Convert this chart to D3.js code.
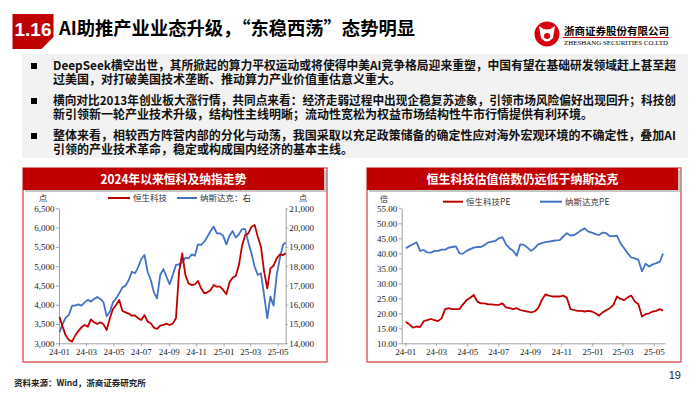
<!DOCTYPE html>
<html><head><meta charset="utf-8">
<script src="https://cdn.jsdelivr.net/npm/d3@7"></script>
<style>body{margin:0;background:#fff}svg{display:block}</style>
</head><body>
<svg id="c" width="700" height="394"></svg>
<script>
// ---------------- DATA ----------------
const dates = ["2024-01-02","2024-01-09","2024-01-16","2024-01-23","2024-01-30","2024-02-06","2024-02-13","2024-02-20","2024-02-27","2024-03-05","2024-03-12","2024-03-19","2024-03-26","2024-04-02","2024-04-09","2024-04-16","2024-04-23","2024-04-30","2024-05-07","2024-05-14","2024-05-21","2024-05-28","2024-06-04","2024-06-11","2024-06-18","2024-06-25","2024-07-02","2024-07-09","2024-07-16","2024-07-23","2024-07-30","2024-08-06","2024-08-13","2024-08-20","2024-08-27","2024-09-03","2024-09-10","2024-09-17","2024-09-24","2024-10-01","2024-10-08","2024-10-15","2024-10-22","2024-10-29","2024-11-05","2024-11-12","2024-11-19","2024-11-26","2024-12-03","2024-12-10","2024-12-17","2024-12-24","2024-12-31","2025-01-07","2025-01-14","2025-01-21","2025-01-28","2025-02-04","2025-02-11","2025-02-18","2025-02-25","2025-03-04","2025-03-11","2025-03-18","2025-03-25","2025-04-01","2025-04-08","2025-04-15","2025-04-22","2025-04-29","2025-05-06","2025-05-13","2025-05-19"];
const hstech = [3690,3432,3200,3086,3043,3200,3320,3415,3475,3432,
  3620,3544,3500,3544,3492,3345,3648,3890,3993,4123,
  3838,3803,3770,3717,3725,3648,3605,3734,3561,3518,
  3406,3371,3458,3475,3510,3475,3510,3648,4857,5332,
  4770,4554,4511,4528,4615,4425,4295,4321,4382,4511,
  4468,4468,4382,4270,4580,4701,4744,5029,5530,5807,
  5850,6023,6066,5764,5504,4860,4425,4943,5012,5202,
  5306,5288,5331];
const nasdaq = [14570,15000,15330,15470,15950,15950,16020,15950,16120,16250,
  16160,16300,16400,16300,16120,15400,15640,16120,16330,16590,
  16900,16990,17280,17710,17630,17950,18370,18580,17710,17280,
  16640,16330,17540,17850,17450,17060,17540,18060,18090,18200,
  18440,18400,18610,18540,19130,19100,19270,19530,19820,20050,
  19700,19700,19580,19130,19580,19820,19480,19650,19920,19920,
  19230,18660,17970,17540,17630,16500,15300,16420,15950,17540,
  18400,19100,19230];
const hstechPE = [17.2,16.3,15.2,15.6,15.4,17.4,17.7,18.1,17.7,17.4,
  18.3,21.4,21.7,21.4,21.4,21.4,23.0,24.4,25.2,26.1,
  23.9,23.3,23.3,23.0,23.0,22.8,22.8,23.3,22.0,21.7,
  21.4,21.7,21.1,20.8,20.6,20.3,20.6,21.7,24.4,26.3,
  25.9,25.6,25.6,25.6,25.9,25.2,21.4,21.1,20.8,20.8,
  20.6,20.8,20.6,20.0,19.2,20.3,21.0,21.7,22.8,25.6,
  24.8,24.4,25.3,25.9,23.9,23.0,18.9,19.7,20.0,20.6,
  20.8,21.4,20.9];
const nasdaqPE = [41.7,42.4,43.0,43.7,40.8,41.1,40.3,40.2,40.8,40.8,
  41.2,41.2,41.9,42.1,42.3,40.0,39.9,40.8,41.4,41.9,
  42.1,42.1,42.8,43.6,43.9,44.1,45.0,45.4,43.0,41.7,
  40.8,39.2,43.0,42.8,41.9,40.8,41.7,43.0,43.4,43.7,
  43.9,44.1,44.3,44.4,45.6,46.7,45.9,46.1,46.8,47.7,
  48.3,47.2,46.9,46.4,46.1,46.9,46.7,45.7,45.7,45.9,
  43.3,41.7,40.0,38.6,38.3,37.8,34.0,36.5,35.6,36.3,
  36.7,37.2,39.9];
const xTickLabels = ["24-01","24-03","24-05","24-07","24-09","24-11","25-01","25-03","25-05"];
const xTickDates = ["2024-01-01","2024-03-01","2024-05-01","2024-07-01","2024-09-01","2024-11-01","2025-01-01","2025-03-01","2025-05-01"];
const leftTicks = [3000,3500,4000,4500,5000,5500,6000,6500];
const rightTicks = [14000,15000,16000,17000,18000,19000,20000,21000];
const peTicks = [10,15,20,25,30,35,40,45,50,55];
const bullets = [
  ["DeepSeek横空出世，其所掀起的算力平权运动或将使得中美AI竞争格局迎来重塑，中国有望在基础研发领域赶上甚至超","过美国，对打破美国技术垄断、推动算力产业价值重估意义重大。"],
  ["横向对比2013年创业板大涨行情，共同点来看：经济走弱过程中出现企稳复苏迹象，引领市场风险偏好出现回升；科技创","新引领新一轮产业技术升级，结构性主线明晰；流动性宽松为权益市场结构性牛市行情提供有利环境。"],
  ["整体来看，相较西方阵营内部的分化与动荡，我国采取以充足政策储备的确定性应对海外宏观环境的不确定性，叠加AI","引领的产业技术革命，稳定或构成国内经济的基本主线。"]
];

// ---------------- DRAW ----------------
const parse = d3.timeParse("%Y-%m-%d");
const D = dates.map(parse);
const svg = d3.select("#c");
const CJK = "'Noto Sans CJK SC', sans-serif";
const SERIF = "'Liberation Serif', serif";
const RED = "#c00000", BLUE = "#4472c4";

// header
svg.append("path").attr("d","M12.5,14H53.5V37L41.5,49H12.5Z").attr("fill",RED);
svg.append("text").attr("x",33).attr("y",36).attr("text-anchor","middle").attr("fill","#fff")
  .attr("font-family","'Liberation Sans', Arial, sans-serif").attr("font-weight","bold").attr("font-size",19).text("1.16");
svg.append("text").attr("x",59).attr("y",35).attr("font-family",CJK).attr("font-weight","bold")
  .attr("font-size",18).attr("textLength",356).attr("lengthAdjust","spacingAndGlyphs")
  .text("AI助推产业业态升级，“东稳西荡”态势明显");

// logo
const lg = svg.append("g");
lg.append("circle").attr("cx",547).attr("cy",34).attr("r",12.5).attr("fill","#d7000f");
lg.append("path").attr("d","M539,26 Q547,33 555,26 L553,38 Q547,45 541,38 Z").attr("fill","#fff");
lg.append("circle").attr("cx",547).attr("cy",36).attr("r",3).attr("fill","#d7000f");
lg.append("text").attr("x",564).attr("y",35).attr("font-family",CJK).attr("font-weight","bold").attr("font-size",10.5)
  .attr("textLength",105).attr("lengthAdjust","spacingAndGlyphs").text("浙商证券股份有限公司");
lg.append("line").attr("x1",563).attr("x2",669).attr("y1",37.5).attr("y2",37.5).attr("stroke","#d7000f").attr("stroke-width",1);
lg.append("text").attr("x",564).attr("y",44.5).attr("font-family",SERIF).attr("font-size",6)
  .attr("textLength",104).attr("lengthAdjust","spacingAndGlyphs").text("ZHESHANG SECURITIES CO.LTD");

// text box
svg.append("rect").attr("x",22).attr("y",54).attr("width",666).attr("height",104).attr("fill","#f2f2f2");
const lineY = [[66,80],[101,115],[136,150]];
bullets.forEach((b,i)=>{
  svg.append("rect").attr("x",31).attr("y",lineY[i][0]-3).attr("width",6).attr("height",6).attr("fill","#000");
  b.forEach((t,j)=>{
    const tx = svg.append("text").attr("x",53).attr("y",lineY[i][j]+4.3).attr("font-family",CJK)
      .attr("font-weight",600).attr("font-size",12).attr("fill","#111").text(t);
    if(j===0) tx.attr("textLength",623).attr("lengthAdjust","spacingAndGlyphs");
  });
});

// panels
function panel(x0,x1,title,tlen){
  svg.append("rect").attr("x",x0).attr("y",168).attr("width",x1-x0).attr("height",194)
    .attr("fill","none").attr("stroke","#d94a4a").attr("stroke-width",1.3);
  svg.append("rect").attr("x",x0+2).attr("y",170).attr("width",x1-x0-2).attr("height",22).attr("fill","#a0a0a0").attr("opacity",0.6);
  svg.append("rect").attr("x",x0).attr("y",168).attr("width",x1-x0-3).attr("height",22).attr("fill",RED);
  svg.append("text").attr("x",(x0+x1-3)/2).attr("y",183.5).attr("text-anchor","middle").attr("fill","#fff")
    .attr("font-family",CJK).attr("font-weight","bold").attr("font-size",12.5)
    .attr("textLength",tlen).attr("lengthAdjust","spacingAndGlyphs").text(title);
}
panel(23,327,"2024年以来恒科及纳指走势",146);
panel(367,681,"恒生科技估值倍数仍远低于纳斯达克",192);

function styleAxis(g){
  g.selectAll("path,line").attr("stroke","#8c8c8c").attr("stroke-width",0.8);
  g.selectAll("text").attr("font-family",SERIF).attr("font-size",9).attr("fill","#222");
}
function legend(items,y){
  items.forEach(it=>{
    svg.append("line").attr("x1",it.x1).attr("x2",it.x2).attr("y1",y).attr("y2",y).attr("stroke",it.c).attr("stroke-width",2);
    svg.append("text").attr("x",it.x2+3).attr("y",y+3).attr("font-family",CJK).attr("font-size",8.5).attr("fill","#333").text(it.t);
  });
}

// ---- left chart ----
const xL = d3.scaleTime().domain([parse("2024-01-01"),parse("2025-05-19")]).range([59,285.7]);
const yL = d3.scaleLinear().domain([3000,6500]).range([343.3,208.3]);
const yR = d3.scaleLinear().domain([14000,21000]).range([343.3,208.3]);
styleAxis(svg.append("g").attr("transform","translate(0,343.3)")
  .call(d3.axisBottom(xL).tickValues(xTickDates.map(parse)).tickFormat((d,i)=>xTickLabels[i]).tickSize(3).tickSizeOuter(0).tickPadding(2)));
styleAxis(svg.append("g").attr("transform","translate(59,0)")
  .call(d3.axisLeft(yL).tickValues(leftTicks).tickFormat(d3.format(",")).tickSize(3).tickSizeOuter(0).tickPadding(1.5)));
styleAxis(svg.append("g").attr("transform","translate(285.7,0)")
  .call(d3.axisRight(yR).tickValues(rightTicks).tickFormat(d3.format(",")).tickSize(2).tickSizeOuter(0).tickPadding(1.5)));
svg.append("path").datum(D.map((d,i)=>[d,nasdaq[i]])).attr("fill","none").attr("stroke",BLUE).attr("stroke-width",1.8)
  .attr("stroke-linejoin","round").attr("d",d3.line().x(d=>xL(d[0])).y(d=>yR(d[1])));
svg.append("path").datum(D.map((d,i)=>[d,hstech[i]])).attr("fill","none").attr("stroke",RED).attr("stroke-width",1.8)
  .attr("stroke-linejoin","round").attr("d",d3.line().x(d=>xL(d[0])).y(d=>yL(d[1])));
svg.append("text").attr("x",43).attr("y",201).attr("text-anchor","middle").attr("font-family",CJK).attr("font-size",8.5).attr("fill","#333").text("点");
svg.append("text").attr("x",303).attr("y",201).attr("text-anchor","middle").attr("font-family",CJK).attr("font-size",8.5).attr("fill","#333").text("点");
legend([{x1:108,x2:130,c:RED,t:"恒生科技"},{x1:177,x2:197,c:BLUE,t:"纳斯达克：右"}],198);

// ---- right chart ----
const xP = d3.scaleTime().domain([parse("2023-12-25"),parse("2025-05-23")]).range([401.7,665]);
const yP = d3.scaleLinear().domain([10,55]).range([343.3,208.3]);
styleAxis(svg.append("g").attr("transform","translate(0,343.3)")
  .call(d3.axisBottom(xP).tickValues(xTickDates.map(parse)).tickFormat((d,i)=>xTickLabels[i]).tickSize(3).tickSizeOuter(0).tickPadding(2)));
styleAxis(svg.append("g").attr("transform","translate(401.7,0)")
  .call(d3.axisLeft(yP).tickValues(peTicks).tickFormat(d3.format(".2f")).tickSize(3).tickSizeOuter(0).tickPadding(1.5)));
svg.append("path").datum(D.map((d,i)=>[d,nasdaqPE[i]])).attr("fill","none").attr("stroke",BLUE).attr("stroke-width",1.8)
  .attr("stroke-linejoin","round").attr("d",d3.line().x(d=>xP(d[0])).y(d=>yP(d[1])));
svg.append("path").datum(D.map((d,i)=>[d,hstechPE[i]])).attr("fill","none").attr("stroke",RED).attr("stroke-width",1.8)
  .attr("stroke-linejoin","round").attr("d",d3.line().x(d=>xP(d[0])).y(d=>yP(d[1])));
svg.append("text").attr("x",384).attr("y",202).attr("text-anchor","middle").attr("font-family",CJK).attr("font-size",8).attr("fill","#333").text("倍");
legend([{x1:443,x2:463,c:RED,t:"恒生科技PE"},{x1:540,x2:562,c:BLUE,t:"纳斯达克PE"}],201.7);

// footer
svg.append("text").attr("x",14).attr("y",386).attr("font-family",CJK).attr("font-weight",600).attr("font-size",8.5).attr("fill","#222").text("资料来源：Wind，浙商证券研究所");
svg.append("text").attr("x",681).attr("y",379).attr("text-anchor","end").attr("font-family","'Liberation Sans', Arial, sans-serif").attr("font-size",11).attr("fill","#222").text("19");
</script>
</body></html>
